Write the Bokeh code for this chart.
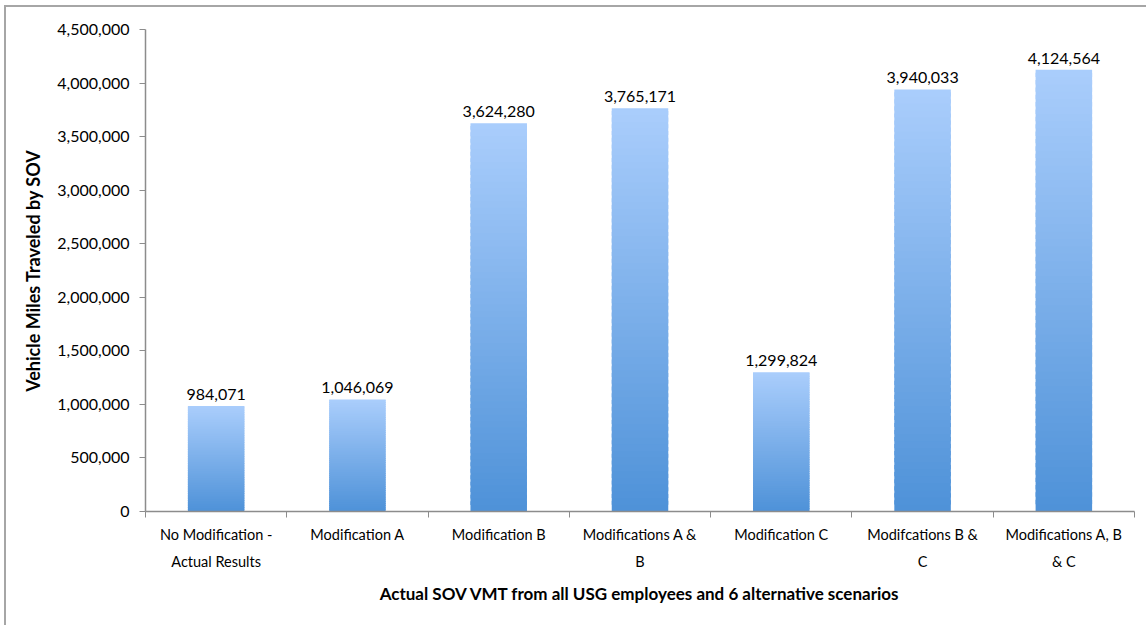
from bokeh.plotting import figure
from bokeh.models import Range1d, FixedTicker, NumeralTickFormatter, ColumnDataSource
from bokeh.core.properties import value
from bokeh.embed import file_html
from bokeh.resources import INLINE

categories = ["No Modification -\nActual Results", "Modification A", "Modification B",
              "Modifications A &\nB", "Modification C", "Modifcations B &\nC",
              "Modifications A, B\n& C"]
vmt = [984071, 1046069, 3624280, 3765171, 1299824, 3940033, 4124564]
y_ticks = [0, 500000, 1000000, 1500000, 2000000, 2500000, 3000000, 3500000, 4000000, 4500000]

FONT = "Lato"
TOP = (170, 205, 252)
BOT = (78, 146, 216)

OX, OY = 6, 7  # offset of the figure inside the bordered chart area
p = figure(width=1148 - OX, height=627 - OY, output_backend="svg", toolbar_location=None,
           x_range=Range1d(0, 7), y_range=Range1d(0, 4500000),
           min_border_left=145 - OX, min_border_right=14, min_border_top=29 - OY,
           min_border_bottom=116)
p.styles = {"box-shadow": "-2px -2px 0 0 #a6a6a6",
            "margin-left": "%dpx" % OX, "margin-top": "%dpx" % OY}
p.outline_line_color = None
p.xgrid.grid_line_color = None
p.ygrid.grid_line_color = None
p.background_fill_color = "white"
p.border_fill_color = "white"

# gradient bars: slices of each bar
N = 60
xs, bots, tops, cols = [], [], [], []
for i, v in enumerate(vmt):
    for k in range(N):
        t = (k + 0.5) / N
        c = tuple(int(round(BOT[j] + (TOP[j] - BOT[j]) * t)) for j in range(3))
        xs.append(i + 0.5)
        bots.append(v * k / N)
        tops.append(min(v, v * (k + 1.6) / N))
        cols.append("#%02x%02x%02x" % c)
src = ColumnDataSource(dict(x=xs, bottom=bots, top=tops, color=cols))
p.vbar(x="x", bottom="bottom", top="top", width=0.40, fill_color="color", line_color=None,
       source=src)

lab = ColumnDataSource(dict(x=[i + 0.5 for i in range(len(vmt))], y=vmt,
                            t=["{:,}".format(v) for v in vmt]))
p.text(x="x", y="y", text="t", source=lab, text_align="center", text_baseline="bottom",
       y_offset=-6, text_font=value(FONT), text_font_size="16px", text_color="#000000")

# axes
xa = p.xaxis[0]
xa.ticker = FixedTicker(ticks=[i + 0.5 for i in range(7)], minor_ticks=list(range(8)))
xa.major_label_overrides = {i + 0.5: c for i, c in enumerate(categories)}
xa.major_tick_line_color = None
xa.minor_tick_line_color = "#8c8c8c"
xa.minor_tick_out = 6
xa.minor_tick_in = 0
xa.axis_line_color = "#8c8c8c"
xa.axis_line_width = 1.5
xa.major_label_text_font = FONT
xa.major_label_text_font_size = "14.5px"
xa.major_label_text_line_height = 1.6
xa.major_label_text_color = "#000000"
xa.major_label_standoff = 8
xa.axis_label = "Actual SOV VMT from all USG employees and 6 alternative scenarios"
xa.axis_label_text_font = FONT
xa.axis_label_text_font_style = "bold"
xa.axis_label_text_font_size = "17px"
xa.axis_label_text_color = "#000000"
xa.axis_label_standoff = 10

ya = p.yaxis[0]
ya.ticker = FixedTicker(ticks=y_ticks)
ya.formatter = NumeralTickFormatter(format="0,0")
ya.major_tick_line_color = "#8c8c8c"
ya.major_tick_out = 6
ya.major_tick_in = 0
ya.minor_tick_line_color = None
ya.axis_line_color = "#8c8c8c"
ya.axis_line_width = 1.5
ya.major_label_text_font = FONT
ya.major_label_text_font_size = "16px"
ya.major_label_text_color = "#000000"
ya.major_label_standoff = 10
ya.axis_label = "Vehicle Miles Traveled by SOV"
ya.axis_label_text_font = FONT
ya.axis_label_text_font_style = "bold"
ya.axis_label_text_font_size = "18px"
ya.axis_label_text_color = "#000000"
ya.axis_label_standoff = 10

open("out.html", "w").write(file_html(p, INLINE))
